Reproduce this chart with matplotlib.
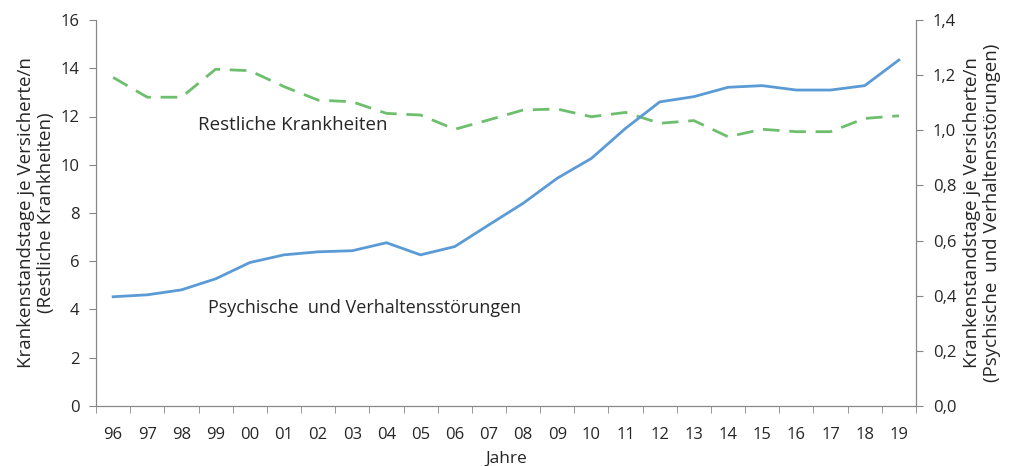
import matplotlib
matplotlib.use("Agg")
import matplotlib.pyplot as plt
import numpy as np
from matplotlib.ticker import FuncFormatter, FixedLocator

plt.rcParams["font.family"] = ["Open Sans", "DejaVu Sans"]

years = ["96", "97", "98", "99", "00", "01", "02", "03", "04", "05", "06", "07",
         "08", "09", "10", "11", "12", "13", "14", "15", "16", "17", "18", "19"]
restliche = [13.62, 12.80, 12.80, 13.96, 13.90, 13.24, 12.68, 12.61, 12.13, 12.06, 11.47, 11.86,
             12.27, 12.31, 11.99, 12.17, 11.72, 11.83, 11.16, 11.47, 11.37, 11.37, 11.92, 12.03]
psychische = [0.396, 0.403, 0.421, 0.461, 0.520, 0.548, 0.559, 0.563, 0.592, 0.548, 0.578, 0.657,
              0.735, 0.826, 0.898, 1.007, 1.103, 1.122, 1.156, 1.162, 1.146, 1.146, 1.162, 1.255]

grey = "#868686"
text_c = "#262626"
blue = "#5b9bd5"
green = "#6dbf6d"

fig = plt.figure(figsize=(10.11, 4.66), dpi=100)
ax = fig.add_axes([0.095, 0.129, 0.811, 0.828])
ax2 = ax.twinx()

x = np.arange(len(years))
ax.plot(x, restliche, color=green, lw=2.0, dashes=(6, 3.5))
ax2.plot(x, psychische, color=blue, lw=2.0)

ax.set_xlim(-0.5, len(years) - 0.5)
ax.set_ylim(0, 16)
ax.set_yticks(np.arange(0, 17, 2))
ax2.set_ylim(0, 1.4)
ax2.set_yticks(np.arange(0, 1.41, 0.2))
ax2.yaxis.set_major_formatter(FuncFormatter(lambda v, p: f"{v:.1f}".replace(".", ",")))

ax.set_xticks(x)
ax.set_xticklabels(years)
ax.xaxis.set_minor_locator(FixedLocator(np.arange(-0.5, len(years), 1)))
ax.tick_params(axis="x", which="major", length=0, pad=15, labelsize=12, labelcolor=text_c)
ax.tick_params(axis="x", which="minor", length=5, color=grey)
ax.tick_params(axis="y", length=5, color=grey, labelsize=12, labelcolor=text_c, pad=7)
ax2.tick_params(axis="y", length=5, color=grey, labelsize=12, labelcolor=text_c, pad=7)

for a in (ax, ax2):
    a.spines["top"].set_visible(False)
    for s in ("left", "right", "bottom"):
        a.spines[s].set_color(grey)

ax.set_xlabel("Jahre", fontsize=12.5, color=text_c, labelpad=6)
ax.set_ylabel("Krankenstandstage je Versicherte/n\n(Restliche Krankheiten)",
              fontsize=13.5, color=text_c, labelpad=4, linespacing=1.15)
ax2.set_ylabel("Krankenstandstage je Versicherte/n\n(Psychische  und Verhaltensstörungen)",
               fontsize=13.5, color=text_c, labelpad=5, linespacing=1.15)

ax.text(5.27, 11.65, "Restliche Krankheiten", fontsize=13.5, color=text_c, ha="center", va="center")
ax.text(7.37, 4.06, "Psychische  und Verhaltensstörungen", fontsize=13, color=text_c,
        ha="center", va="center")

fig.savefig("out.png", dpi=100)
